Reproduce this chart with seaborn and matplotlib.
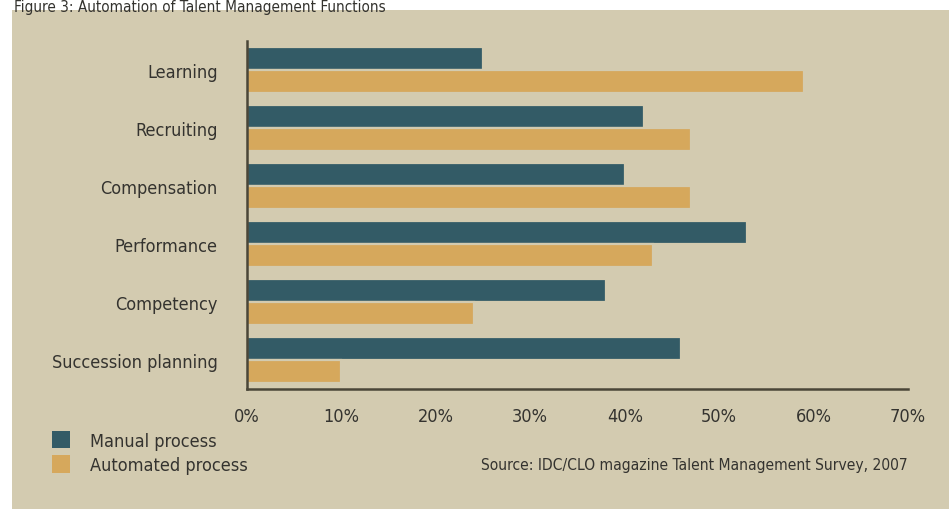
import matplotlib
matplotlib.use("Agg")
import matplotlib.pyplot as plt
import matplotlib.patches as mpatches
from matplotlib import font_manager
import seaborn as sns
import pandas as pd

categories = ["Learning", "Recruiting", "Compensation", "Performance",
              "Competency", "Succession planning"]
manual = [25, 42, 40, 53, 38, 46]
automated = [59, 47, 47, 43, 24, 10]
series_names = ["Manual process", "Automated process"]
x_ticks = [0, 10, 20, 30, 40, 50, 60, 70]
x_tick_labels = ["0%", "10%", "20%", "30%", "40%", "50%", "60%", "70%"]
title = "Figure 3: Automation of Talent Management Functions"
source = "Source: IDC/CLO magazine Talent Management Survey, 2007"

BG = "#d3cbb0"
C_MAN = "#335b66"
C_AUT = "#d6a85c"
TXT = "#34332f"

df = pd.DataFrame({
    "category": categories * 2,
    "value": manual + automated,
    "series": [series_names[0]] * len(categories) + [series_names[1]] * len(categories),
})

sns.set_theme(style="white")
names = {f.name for f in font_manager.fontManager.ttflist}
if "Liberation Sans Narrow" in names:
    plt.rcParams["font.family"] = ["Liberation Sans Narrow", "DejaVu Sans"]
else:
    plt.rcParams["font.family"] = ["DejaVu Sans"]
    plt.rcParams["font.stretch"] = "condensed"

fig = plt.figure(figsize=(9.49, 5.10), dpi=100)
fig.patch.set_facecolor("white")

# beige panel as a background axes
bg_ax = fig.add_axes([12 / 949, 0.0, 1 - 12 / 949, 1 - 11 / 510], zorder=-5)
bg_ax.set_facecolor(BG)
bg_ax.set_xticks([])
bg_ax.set_yticks([])
for s in bg_ax.spines.values():
    s.set_visible(False)

ax = fig.add_axes([247 / 949, 1 - 390 / 510, (908 - 247) / 949, (390 - 42) / 510], zorder=1)
ax.patch.set_alpha(0)

sns.barplot(data=df, y="category", x="value", hue="series", order=categories,
            hue_order=series_names, palette=[C_MAN, C_AUT], orient="h",
            width=0.8, edgecolor=BG, linewidth=1.6, saturation=1, ax=ax)

ax.set_xlim(0, 70)
ax.set_ylim(5.5, -0.5)
ax.set_xticks(x_ticks)
ax.set_xticklabels(x_tick_labels)
ax.set_xlabel("")
ax.set_ylabel("")
ax.tick_params(axis="both", length=0, labelsize=13, colors=TXT)
ax.tick_params(axis="x", pad=13)
ax.tick_params(axis="y", pad=21)
for s in ["top", "right"]:
    ax.spines[s].set_visible(False)
for s in ["left", "bottom"]:
    ax.spines[s].set_color("#4a4638")
    ax.spines[s].set_linewidth(1.8)

ax.legend_.remove()
handles = [mpatches.Patch(facecolor=C_MAN, edgecolor="none"),
           mpatches.Patch(facecolor=C_AUT, edgecolor="none")]
fig.legend(handles, series_names, loc="upper left",
           bbox_to_anchor=(52 / 949, 1 - 432 / 510), frameon=False,
           fontsize=13, labelcolor=TXT, handlelength=1.0, handleheight=1.1,
           handletextpad=1.1, labelspacing=0.3, borderaxespad=0, borderpad=0)

fig.text(908 / 949, 1 - 466 / 510, source, ha="right", va="center",
         fontsize=11.2, color=TXT)
fig.text(14 / 949, 1.0, title, ha="left", va="top", fontsize=11, color=TXT)

fig.savefig("out.png", dpi=100, facecolor="white")
